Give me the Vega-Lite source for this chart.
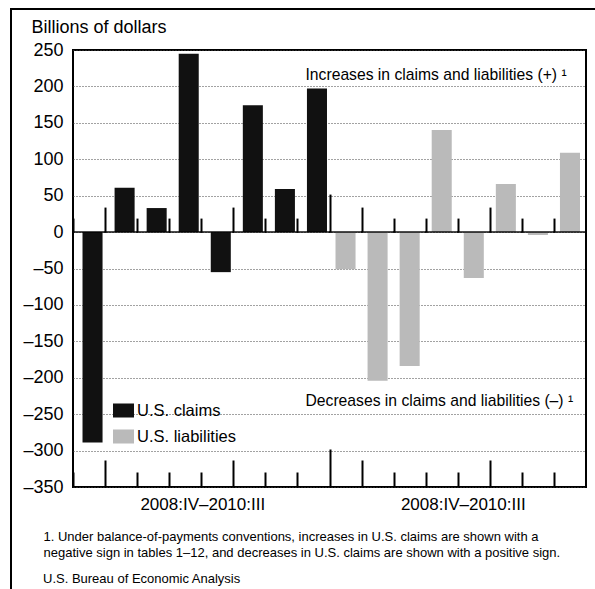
{
  "$schema": "https://vega.github.io/schema/vega-lite/v6.json",
  "width": 513,
  "height": 437,
  "autosize": "none",
  "padding": {"left": 73, "top": 50, "right": 9, "bottom": 102},
  "background": "white",
  "title": {
    "text": "U.S. Bureau of Economic Analysis",
    "orient": "none", "anchor": "start", "frame": "group",
    "dx": -30, "dy": 533, "baseline": "alphabetic",
    "font": "Liberation Sans", "fontSize": 13, "fontWeight": "normal", "color": "black"
  },
  "config": {
    "font": "Liberation Sans",
    "view": {"stroke": "black", "strokeWidth": 2},
    "axis": {"labelFont": "Liberation Sans", "titleFont": "Liberation Sans"},
    "legend": {"labelFont": "Liberation Sans"}
  },
  "data": {
    "values": [
      {"series": "U.S. claims", "quarter": "2008:IV", "slot": "claims 2008:IV", "value": -289},
      {"series": "U.S. claims", "quarter": "2009:I", "slot": "claims 2009:I", "value": 61},
      {"series": "U.S. claims", "quarter": "2009:II", "slot": "claims 2009:II", "value": 33},
      {"series": "U.S. claims", "quarter": "2009:III", "slot": "claims 2009:III", "value": 245},
      {"series": "U.S. claims", "quarter": "2009:IV", "slot": "claims 2009:IV", "value": -55},
      {"series": "U.S. claims", "quarter": "2010:I", "slot": "claims 2010:I", "value": 174},
      {"series": "U.S. claims", "quarter": "2010:II", "slot": "claims 2010:II", "value": 59},
      {"series": "U.S. claims", "quarter": "2010:III", "slot": "claims 2010:III", "value": 197},
      {"series": "U.S. liabilities", "quarter": "2008:IV", "slot": "liabilities 2008:IV", "value": -51},
      {"series": "U.S. liabilities", "quarter": "2009:I", "slot": "liabilities 2009:I", "value": -204},
      {"series": "U.S. liabilities", "quarter": "2009:II", "slot": "liabilities 2009:II", "value": -184},
      {"series": "U.S. liabilities", "quarter": "2009:III", "slot": "liabilities 2009:III", "value": 140},
      {"series": "U.S. liabilities", "quarter": "2009:IV", "slot": "liabilities 2009:IV", "value": -63},
      {"series": "U.S. liabilities", "quarter": "2010:I", "slot": "liabilities 2010:I", "value": 66},
      {"series": "U.S. liabilities", "quarter": "2010:II", "slot": "liabilities 2010:II", "value": -4},
      {"series": "U.S. liabilities", "quarter": "2010:III", "slot": "liabilities 2010:III", "value": 109}
    ]
  },
  "layer": [
    {
      "mark": {"type": "bar", "width": {"band": 0.625}, "xOffset": {"expr": "datum.series === 'U.S. claims' ? 3.5 : 0"}},
      "encoding": {
        "x": {
          "field": "slot", "type": "nominal", "sort": null,
          "scale": {"paddingInner": 0, "paddingOuter": 0},
          "axis": {
            "orient": "bottom", "domain": false, "grid": false,
            "tickBand": "extent", "tickColor": "black", "tickWidth": 2,
            "tickSize": {"condition": [
              {"test": "datum.value === 'claims 2010:III'", "value": -38},
              {"test": "indexof(['claims 2008:IV','claims 2009:IV','liabilities 2008:IV','liabilities 2009:IV'], datum.value) >= 0", "value": -27},
              {"test": "datum.value === 'liabilities 2010:III'", "value": 0}
            ], "value": -15},
            "labelExpr": "datum.value === 'claims 2009:IV' || datum.value === 'liabilities 2009:IV' ? '2008:IV–2010:III' : ''",
            "labelOffset": {"condition": {"test": "datum.value === 'claims 2009:IV'", "value": -15}, "value": -11},
            "labelAngle": 0, "labelFontSize": 17, "labelColor": "black", "labelPadding": 36.5,
            "labelOverlap": false, "labelBound": false, "labelFlush": false,
            "title": ["1. Under balance-of-payments conventions, increases in U.S. claims are shown with a", "negative sign in tables 1–12, and decreases in U.S. claims are shown with a positive sign."],
            "titleX": -30, "titleY": 53.5, "titleAlign": "left", "titleAngle": 0, "titleBaseline": "alphabetic",
            "titleFontSize": 13, "titleFontWeight": "normal", "titleLineHeight": 15.5, "titleColor": "black"
          }
        },
        "y": {
          "field": "value", "type": "quantitative",
          "scale": {"domain": [-350, 250], "nice": false},
          "axis": {
            "orient": "left",
            "values": [-350, -300, -250, -200, -150, -100, -50, 0, 50, 100, 150, 200, 250],
            "domain": false, "ticks": false, "labelPadding": 10, "labelFontSize": 18, "labelColor": "black",
            "labelExpr": "datum.value < 0 ? '–' + abs(datum.value) : datum.label",
            "grid": true, "gridDash": [1, 2], "gridColor": "#444444", "gridWidth": 1,
            "title": "Billions of dollars", "titleX": -42, "titleY": -18, "titleAngle": 0,
            "titleAlign": "left", "titleBaseline": "alphabetic", "titleFontSize": 18,
            "titleFontWeight": "normal", "titleColor": "black"
          }
        },
        "color": {
          "field": "series", "type": "nominal",
          "scale": {"domain": ["U.S. claims", "U.S. liabilities"], "range": ["#111111", "#bababa"]},
          "legend": {
            "orient": "none", "legendX": 40, "legendY": 350, "title": null,
            "symbolType": "M-1,-0.667H1V0.667H-1Z", "symbolSize": 441, "symbolStrokeWidth": 0, "symbolOpacity": 1,
            "labelFontSize": 16.5, "labelColor": "black", "labelOffset": 3, "rowPadding": 7, "padding": 0
          }
        }
      }
    },
    {
      "mark": {"type": "tick", "color": "black", "thickness": 2, "size": 33, "orient": "horizontal"},
      "encoding": {
        "x": {
          "field": "slot", "type": "nominal", "sort": null,
          "axis": {
            "orient": "top", "offset": -182.08, "domain": false, "labels": false, "grid": false,
            "tickBand": "extent", "tickColor": "black", "tickWidth": 2,
            "tickSize": {"condition": [
              {"test": "datum.value === 'claims 2010:III'", "value": 38},
              {"test": "indexof(['claims 2008:IV','claims 2009:IV','liabilities 2008:IV','liabilities 2009:IV'], datum.value) >= 0", "value": 25},
              {"test": "datum.value === 'liabilities 2010:III'", "value": 0}
            ], "value": 14},
            "title": "Increases in claims and liabilities (+) ¹",
            "titleX": 232, "titleY": -153, "titleAlign": "left", "titleAngle": 0, "titleBaseline": "alphabetic",
            "titleFontSize": 15.7, "titleFontWeight": "normal", "titleColor": "black"
          }
        },
        "y": {
          "datum": 0, "type": "quantitative",
          "axis": {
            "orient": "right", "domain": false, "labels": false, "ticks": false, "grid": false,
            "title": "Decreases in claims and liabilities (–) ¹",
            "titleX": -281, "titleY": 355, "titleAlign": "left", "titleAngle": 0, "titleBaseline": "alphabetic",
            "titleFontSize": 15.7, "titleFontWeight": "normal", "titleColor": "black"
          }
        }
      }
    },
    {
      "data": {"values": [{}]},
      "mark": {"type": "rect", "filled": false, "stroke": "black", "strokeWidth": 2},
      "encoding": {
        "x": {"value": -62}, "y": {"value": -41},
        "x2": {"value": 526}, "y2": {"value": 545}
      }
    }
  ],
  "resolve": {"axis": {"x": "independent", "y": "independent"}}
}
